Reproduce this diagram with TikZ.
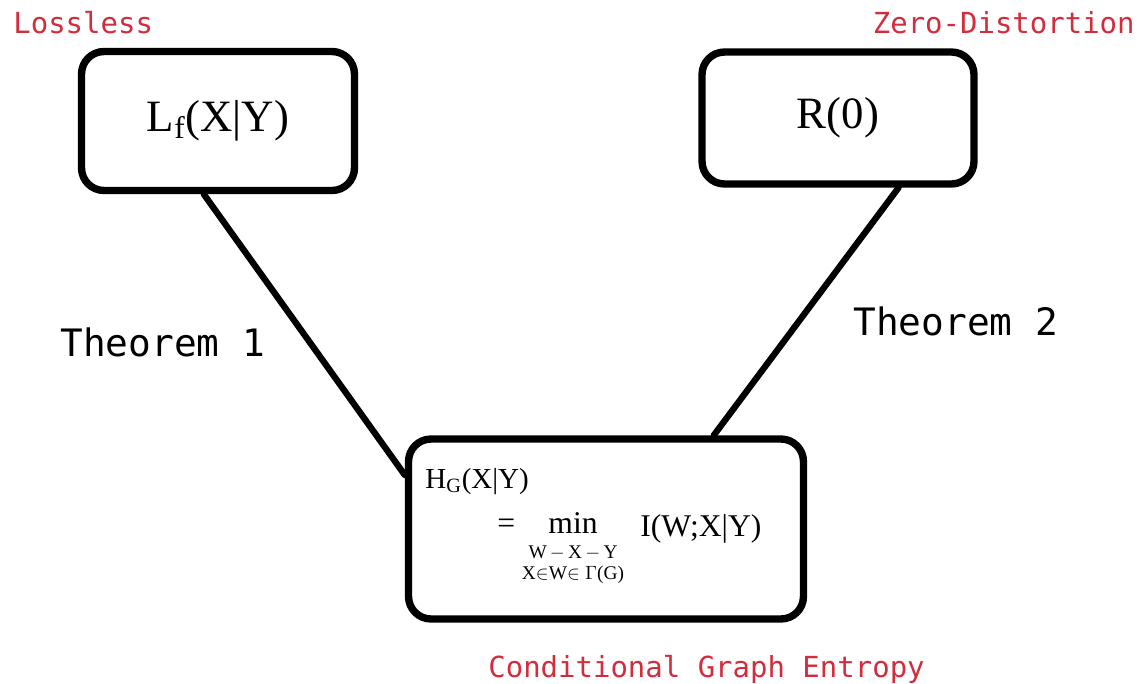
\documentclass[tikz,border=0pt]{standalone}
\usepackage{fontspec}
\setmainfont{Liberation Serif}
\setmonofont{DejaVu Sans Mono}
\usetikzlibrary{positioning}
\definecolor{tagred}{RGB}{210,45,60}
\tikzset{
  box/.style={draw, line width=4.2pt, rounded corners=0.45cm, inner sep=0pt},
  link/.style={line width=3.6pt},
  tag/.style={font=\ttfamily\fontsize{16.5}{18}\selectfont, text=tagred, inner sep=0pt},
  thm/.style={font=\ttfamily\fontsize{21.5}{24}\selectfont, inner sep=0pt},
  quant/.style={font=\fontsize{25.5}{28}\selectfont},
  eq/.style={font=\fontsize{18}{20}\selectfont, inner sep=0pt},
  lim/.style={font=\fontsize{11}{12}\selectfont, inner sep=0pt},
}

\begin{document}
\begin{tikzpicture}[x=0.02cm, y=-0.02cm, line join=round, line cap=round]
\useasboundingbox (0,0) rectangle (1142,683);
% the three quantities
\node[box, quant, minimum width=5.46cm, minimum height=2.78cm] (lf) at (218,121) {L\textsubscript{f}(X|Y)};
\node[box, quant, minimum width=5.44cm, minimum height=2.64cm] (r0) at (838,118) {R(0)};
\node[box, minimum width=7.9cm, minimum height=3.6cm] (ent) at (606,529) {};
% formula inside the bottom box
\node[anchor=base west, inner sep=0pt, font=\fontsize{16.5}{18}\selectfont] (hg) at (425,488) {H\textsubscript{G}(X|Y)};
\node[eq, anchor=base west] (eqs) at (497,533) {=};
\node[eq, anchor=base] (min) at (573,533) {min};
\node[lim, below=2.4mm of min] (lima) {W\,$-$\,X\,$-$\,Y};
\node[lim, below=1.1mm of lima] (limb) {X$\in$W$\in\Gamma$(G)};
\node[eq, anchor=base west] (iw) at (640,536) {I(W;X|Y)};
% links
\draw[link] (lf.259) -- (ent.165);
\draw[link] (r0.311) -- (ent.41);
% labels
\node[tag, anchor=base west] (loss) at (13,33) {Lossless};
\node[tag, anchor=base east] (zero) at (1135,33) {Zero-Distortion};
\node[tag, anchor=base west] (cge) at (488,677) {Conditional Graph Entropy};
\node[thm, anchor=base west] (t1) at (60,356) {Theorem 1};
\node[thm, anchor=base west] (t2) at (853,335) {Theorem 2};
\end{tikzpicture}
\end{document}
